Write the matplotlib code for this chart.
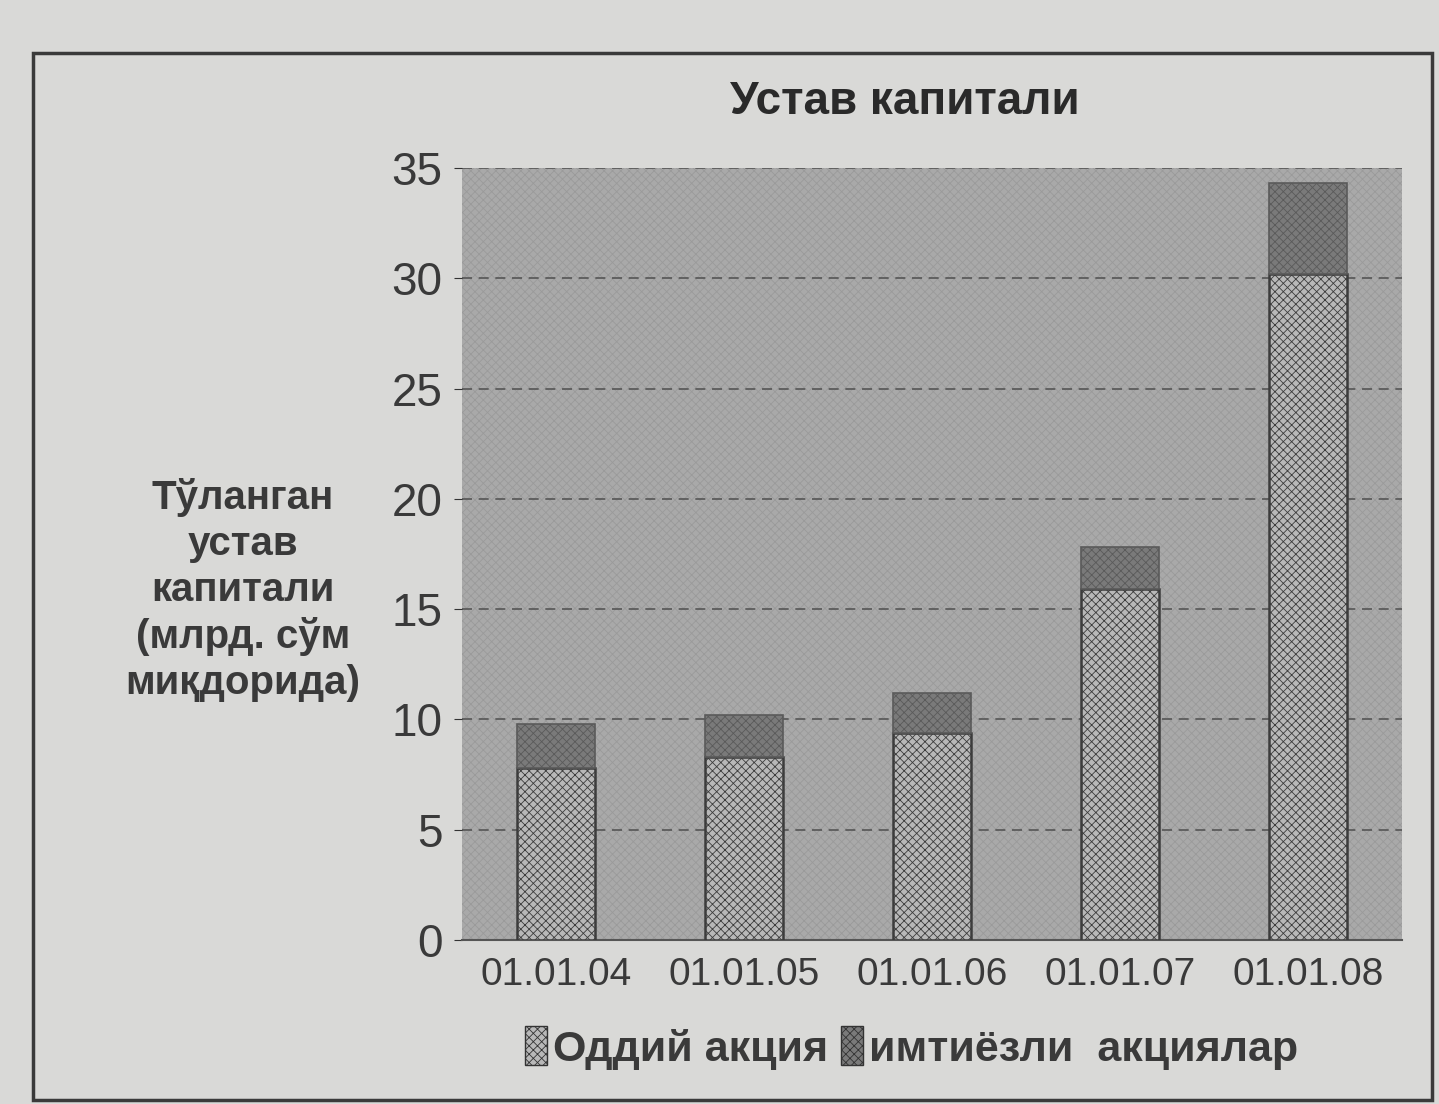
import matplotlib
matplotlib.use("Agg")
import matplotlib.pyplot as plt
from matplotlib.patches import Rectangle, Patch
import numpy as np

categories = ["01.01.04", "01.01.05", "01.01.06", "01.01.07", "01.01.08"]
ordinary = [7.8, 8.3, 9.4, 15.9, 30.2]
preferred = [2.0, 1.9, 1.8, 1.9, 4.1]
series_names = ["Оддий акция", "имтиёзли  акциялар"]
title = "Устав капитали"
ylabel = "Тўланган\nустав\nкапитали\n(млрд. сўм\nмиқдорида)"

plt.rcParams['font.family'] = ['Liberation Sans', 'DejaVu Sans']
plt.rcParams['hatch.linewidth'] = 0.6

fig = plt.figure(figsize=(14.39, 11.04), dpi=100)
fig.patch.set_facecolor('#d9d9d7')
fig.patches.append(Rectangle((33/1439, 4/1104), (1432-33)/1439, (1047)/1104,
                             transform=fig.transFigure, fill=False,
                             edgecolor='#3a3a3a', linewidth=2.5))

ax = fig.add_axes([462/1439, (1104-940)/1104, (1402-462)/1439, (940-168)/1104])
ax.set_facecolor('#a9a9a9')
ax.add_patch(Rectangle((0, 0), 1, 1, transform=ax.transAxes, facecolor='none',
                       edgecolor='#9a9a9a', hatch='xxxx', linewidth=0, zorder=0.5))

x = np.arange(len(categories))
w = 0.42
ax.bar(x, ordinary, w, color='#b8b8b8', edgecolor='#3c3c3c', linewidth=1.8,
       hatch='xxxx', zorder=3, label=series_names[0])
ax.bar(x, preferred, w, bottom=ordinary, color='#7a7a7a', edgecolor='#5a5a5a',
       linewidth=1.2, hatch='xxxx', zorder=3, label=series_names[1])

ax.set_xlim(-0.5, len(categories) - 0.5)
ax.set_ylim(0, 35)
ax.set_yticks(range(0, 36, 5))
ax.set_xticks(x)
ax.set_xticklabels(categories)
ax.yaxis.grid(True, color='#555555', linestyle=(0, (6, 4)), linewidth=1.2)
ax.set_axisbelow(True)
for s in ['top', 'right', 'left']:
    ax.spines[s].set_visible(False)
ax.spines['bottom'].set_color('#555555')
ax.spines['bottom'].set_linewidth(1.5)
ax.tick_params(axis='y', labelsize=33, colors='#333333', length=6, pad=8)
ax.tick_params(axis='x', labelsize=28, colors='#444444', length=0, pad=12)
for lab in ax.get_yticklabels() + ax.get_xticklabels():
    lab.set_color('#3a3a3a')

fig.text(905/1439, 1 - 102/1104, title, ha='center', va='center',
         fontsize=33, fontweight='bold', color='#2a2a2a')
fig.text(243/1439, 1 - 590/1104, ylabel, ha='center', va='center',
         fontsize=29, fontweight='bold', color='#3a3a3a', linespacing=1.27)

handles = [Patch(facecolor='#b8b8b8', edgecolor='#333333', hatch='xxxx'),
           Patch(facecolor='#7a7a7a', edgecolor='#333333', hatch='xxxx')]
leg = fig.legend(handles, series_names, loc='center', bbox_to_anchor=(912/1439, 1 - 1048/1104),
                 ncol=2, frameon=False, handlelength=0.5, handleheight=1.0,
                 handletextpad=0.15, columnspacing=0.3,
                 prop={'size': 31, 'weight': 'bold'})
for t in leg.get_texts():
    t.set_color('#3a3a3a')

fig.savefig('out.png', dpi=100, facecolor=fig.get_facecolor())
